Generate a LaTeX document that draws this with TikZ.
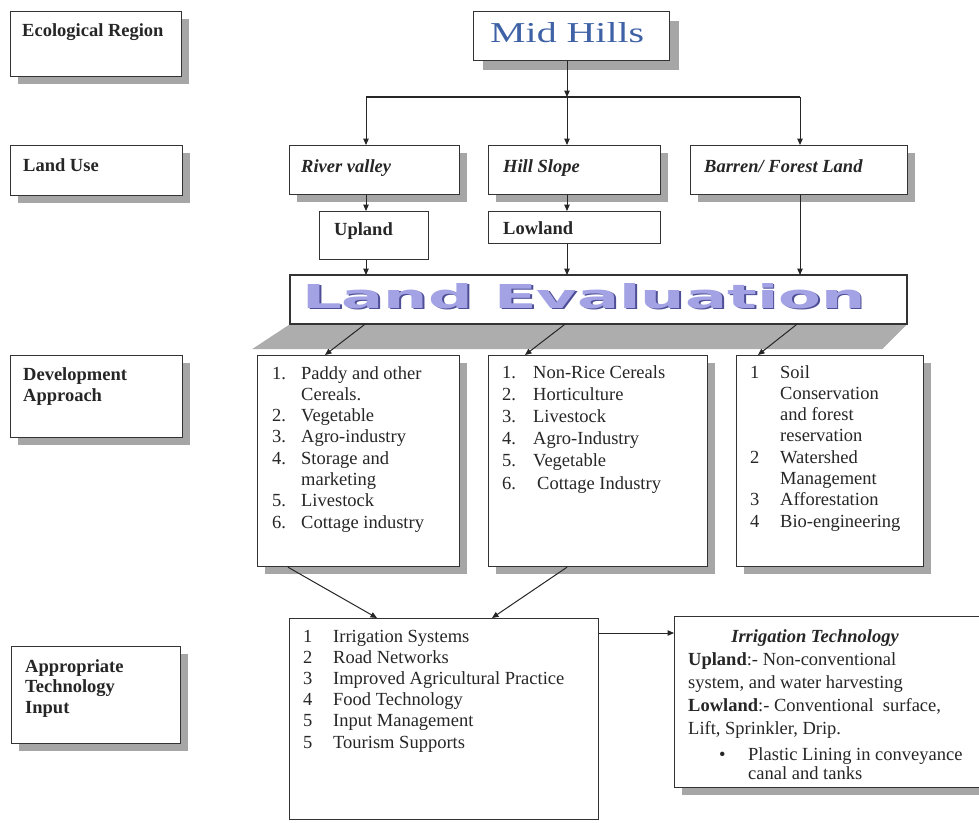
\documentclass[tikz,border=0pt]{standalone}
\usepackage{fontspec}
\usepackage{graphicx}
\setmainfont{Liberation Serif}
\newfontfamily\wafont{DejaVu Sans}
\usetikzlibrary{arrows.meta,shadows,calc}
\definecolor{midblue}{RGB}{62,98,165}
\definecolor{lvdark}{RGB}{78,78,150}
\definecolor{lvfill}{RGB}{162,162,228}
\newcommand\fs{\fontsize{18.5}{21.3}\selectfont}
\newcommand\midword{\resizebox{154pt}{20pt}{Mid Hills}}
\newcommand\leword{\resizebox{563pt}{25pt}{\wafont\bfseries Land Evaluation}}
\tikzset{
  bx/.style={draw=black!80, line width=1.2pt, fill=white, inner sep=0pt, anchor=north west},
  sh/.style={drop shadow={shadow xshift=7pt, shadow yshift=-7pt, fill=black!35, opacity=1}},
  conn/.style={draw=black!85, line width=1pt, -{Triangle[length=6.5pt,width=5.5pt]}},
  bar/.style={draw=black!85, line width=1.6pt},
  txt/.style={inner sep=0pt, anchor=base west, text=black!85, font=\fs},
}
\begin{document}
\begin{tikzpicture}[x=1pt,y=-1pt]
\fill[white] (0,0) rectangle (979,822);
\clip (0,0) rectangle (979,822);

% ---- left label boxes
\node[bx,sh,minimum width=171pt,minimum height=65pt] (eco) at (10,11) {};
\node[txt] (ecot) at (22,36) {\bfseries Ecological Region};
\node[bx,sh,minimum width=172pt,minimum height=50pt] (lu) at (10,145) {};
\node[txt] (lut) at (23,171) {\bfseries Land Use};
\node[bx,sh,minimum width=172pt,minimum height=82pt] (da) at (10,355) {};
\node[txt] (dat) at (23,380) {\bfseries\begin{tabular}[t]{@{}l@{}}Development\\Approach\end{tabular}};
\node[bx,sh,minimum width=169pt,minimum height=97pt] (ati) at (11,646) {};
\node[txt,font=\fontsize{18.5}{20.5}\selectfont] (atit) at (25,672) {\bfseries\begin{tabular}[t]{@{}l@{}}Appropriate\\Technology\\Input\end{tabular}};

% ---- Mid Hills
\node[bx,drop shadow={shadow xshift=9pt, shadow yshift=-9pt, fill=black!35, opacity=1},minimum width=196pt,minimum height=49pt] (mid) at (473,11) {};
\node[inner sep=0pt,anchor=base west,text=midblue] (midt) at (490,42) {\midword};

% ---- land use boxes
\node[bx,sh,minimum width=170pt,minimum height=49pt] (rv) at (289,145) {};
\node[txt] (rvt) at (301,172) {\bfseries\itshape River valley};
\node[bx,sh,minimum width=172pt,minimum height=49pt] (hs) at (488,145) {};
\node[txt] (hst) at (503,172) {\bfseries\itshape Hill Slope};
\node[bx,sh,minimum width=217pt,minimum height=49pt] (bf) at (690,145) {};
\node[txt] (bft) at (704,172) {\bfseries\itshape Barren/ Forest Land};
\node[bx,minimum width=109pt,minimum height=48pt] (up) at (319,211) {};
\node[txt] (upt) at (334,235) {\bfseries Upland};
\node[bx,minimum width=172pt,minimum height=32pt] (lo) at (488,211) {};
\node[txt] (lot) at (503,234) {\bfseries Lowland};

% ---- Land Evaluation
\node[bx,minimum width=616pt,minimum height=48pt] (le) at (290,275) {};
\fill[black!32] (le.south west) -- (le.south east) -- ++(-25,25) -- ($(le.south west)+(-38,25)$) -- cycle;
\draw[black!80, line width=1.2pt] (le.north west) rectangle (le.south east);
\node[inner sep=0pt,anchor=base west] (let) at (302,308) {\rlap{\raisebox{-1.8pt}{\hspace{1.8pt}\textcolor{lvdark}{\leword}}}\textcolor{lvfill}{\leword}};

% ---- development boxes
\node[bx,sh,minimum width=202pt,minimum height=211pt] (b1) at (257,355) {};
\node[txt] (b1t) at (272,379) {\begin{tabular}[t]{@{}p{29pt}@{}l@{}}
1. & Paddy and other\\ & Cereals.\\ 2. & Vegetable\\ 3. & Agro-industry\\ 4. & Storage and\\ & marketing\\ 5. & Livestock\\ 6. & Cottage industry\end{tabular}};
\node[bx,sh,minimum width=219pt,minimum height=211pt] (b2) at (488,355) {};
\node[txt,font=\fontsize{18.5}{22.2}\selectfont] (b2t) at (502,378) {\begin{tabular}[t]{@{}p{31pt}@{}l@{}}
1. & Non-Rice Cereals\\ 2. & Horticulture\\ 3. & Livestock\\ 4. & Agro-Industry\\ 5. & Vegetable\\ 6. & \hspace{4pt}Cottage Industry\end{tabular}};
\node[bx,sh,minimum width=187pt,minimum height=211pt] (b3) at (736,355) {};
\node[txt] (b3t) at (750,378) {\begin{tabular}[t]{@{}p{30pt}@{}l@{}}
1 & Soil\\ & Conservation\\ & and forest\\ & reservation\\ 2 & Watershed\\ & Management\\ 3 & Afforestation\\ 4 & Bio-engineering\end{tabular}};

% ---- technology boxes
\node[bx,minimum width=309pt,minimum height=201pt] (b4) at (289,618) {};
\node[txt,font=\fontsize{18.5}{21.2}\selectfont] (b4t) at (303,642) {\begin{tabular}[t]{@{}p{30pt}@{}l@{}}
1 & Irrigation Systems\\ 2 & Road Networks\\ 3 & Improved Agricultural Practice\\ 4 & Food Technology\\ 5 & Input Management\\ 5 & Tourism Supports\end{tabular}};
\node[bx,sh,minimum width=320pt,minimum height=171pt] (irr) at (674,616) {};
\node[txt,anchor=base] (irrh) at (815,642) {\bfseries\itshape Irrigation Technology};
\node[txt,font=\fontsize{18.5}{23.2}\selectfont] (irrt) at (688,665) {\begin{tabular}[t]{@{}l@{}}
\textbf{Upland}:- Non-conventional\\ system, and water harvesting\\ \textbf{Lowland}:- Conventional\ \ surface,\\ Lift, Sprinkler, Drip.\end{tabular}};
\node[txt] (bul) at (719,760) {\textbullet};
\node[txt,font=\fontsize{18.5}{19}\selectfont] (irrb) at (748,760) {\begin{tabular}[t]{@{}l@{}}Plastic Lining in conveyance\\ canal and tanks\end{tabular}};

% ---- connectors
\coordinate (jl) at (366,97);
\coordinate (jm) at (567,97);
\coordinate (jr) at (800,97);
\draw[conn] (mid.south -| jm) -- (jm);
\draw[bar] (jl) -- (jr);
\draw[conn] (jl) -- (jl |- rv.north);
\draw[conn] (jm) -- (jm |- hs.north);
\draw[conn] (jr) -- (jr |- bf.north);
\draw[conn] (jl |- rv.south) -- (jl |- up.north);
\draw[conn] (jl |- up.south) -- (jl |- le.north);
\draw[conn] (jm |- hs.south) -- (jm |- lo.north);
\draw[conn] (jm |- lo.south) -- (jm |- le.north);
\draw[conn] (jr |- bf.south) -- (jr |- le.north);
\draw[conn] ($(le.south west)+(75,0)$) -- ($(b1.north west)+(68,0)$);
\draw[conn] ($(le.south west)+(275,0)$) -- ($(b2.north west)+(37,0)$);
\draw[conn] ($(le.south west)+(507,0)$) -- ($(b3.north west)+(22,0)$);
\draw[conn] ($(b1.south west)+(31,0)$) -- ($(b4.north west)+(88,0)$);
\draw[conn] ($(b2.south west)+(79,0)$) -- ($(b4.north west)+(203,0)$);
\draw[conn] ($(b4.north east)+(0,15)$) -- ($(irr.north west)+(0,17)$);
\end{tikzpicture}
\end{document}
